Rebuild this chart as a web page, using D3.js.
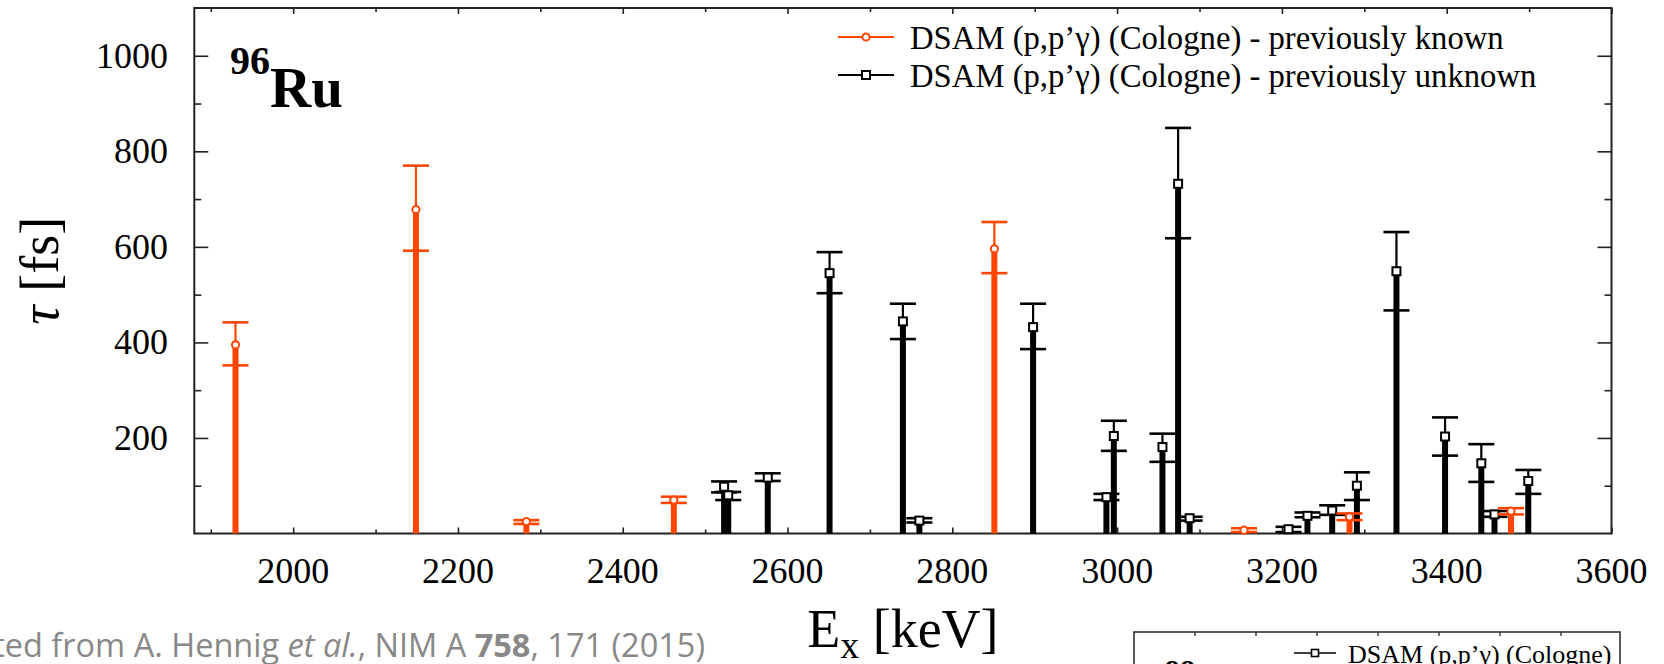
<!DOCTYPE html>
<html>
<head>
<meta charset="utf-8">
<script src="https://cdn.jsdelivr.net/npm/d3@7"></script>
<style>
  body { margin: 0; background: #fff; }
  svg { display: block; }
  .serif { font-family: "Liberation Serif", "Times New Roman", serif; }
</style>
</head>
<body>
<svg id="chart"></svg>
<script>
// Lifetimes of 96Ru levels
const knownE   = [1930, 2149, 2283, 2462, 2851, 3154, 3282, 3478];
const knownTau = [395, 678, 25, 70, 596, 7, 35, 47];
const knownUp  = [47, 92, 3, 7, 56, 4, 7, 6];
const knownLo  = [43, 86, 5, 6, 51, 4, 7, 7];

const unknownE   = [2523, 2528, 2576, 2651, 2740, 2760, 2898, 2987, 2996, 3055, 3074, 3088, 3208, 3231, 3261, 3291, 3339, 3398, 3442, 3458, 3499];
const unknownTau = [98, 80, 117, 545, 444, 27, 432, 76, 204, 181, 732, 32, 9, 37, 48, 100, 549, 203, 147, 40, 110];
const unknownUp  = [11, 7, 9, 44, 37, 5, 49, 7, 32, 28, 117, 3, 5, 7, 11, 28, 82, 40, 40, 7, 23];
const unknownLo  = [12, 10, 7, 42, 37, 4, 46, 6, 31, 31, 114, 5, 6, 3, 9, 30, 82, 40, 39, 5, 27];

const xMajor = d3.range(2000, 3601, 200);
const xMinor = d3.range(1900, 3600, 200);
const yMajor = [200, 400, 600, 800, 1000];
const yMinor = [100, 300, 500, 700, 900];

const legendLabels = [
    "DSAM (p,p\u2019\u03b3) (Cologne) - previously known",
    "DSAM (p,p\u2019\u03b3) (Cologne) - previously unknown"
];

const width = 1664, height = 664;
const orange = "#ff4500";

const svg = d3.select("#chart")
    .attr("width", width)
    .attr("height", height);

const x = d3.scaleLinear().domain([1880, 3600]).range([194.3, 1611.5]);
const y = d3.scaleLinear().domain([0, 1100]).range([533.5, 8]);

const [x0, x1] = x.range();
const [y0, y1] = y.range();

// axes with inward ticks on all four sides
function tickAxis(axisFn, scale, values, size) {
    return axisFn(scale).tickValues(values).tickSize(size).tickFormat("");
}

const axes = svg.append("g").attr("stroke-width", 1.6);

axes.append("g").attr("transform", `translate(0,${y0})`).call(tickAxis(d3.axisTop, x, xMajor, 6));
axes.append("g").attr("transform", `translate(0,${y0})`).call(tickAxis(d3.axisTop, x, xMinor, 4));
axes.append("g").attr("transform", `translate(0,${y1})`).call(tickAxis(d3.axisBottom, x, xMajor, 6));
axes.append("g").attr("transform", `translate(0,${y1})`).call(tickAxis(d3.axisBottom, x, xMinor, 4));
axes.append("g").attr("transform", `translate(${x0},0)`).call(tickAxis(d3.axisRight, y, yMajor, 14));
axes.append("g").attr("transform", `translate(${x0},0)`).call(tickAxis(d3.axisRight, y, yMinor, 7));
axes.append("g").attr("transform", `translate(${x1},0)`).call(tickAxis(d3.axisLeft, y, yMajor, 14));
axes.append("g").attr("transform", `translate(${x1},0)`).call(tickAxis(d3.axisLeft, y, yMinor, 7));

axes.selectAll(".domain").remove();
axes.selectAll("line").attr("stroke", "#222");

svg.append("rect")
    .attr("x", x0).attr("y", y1)
    .attr("width", x1 - x0).attr("height", y0 - y1)
    .attr("fill", "none")
    .attr("stroke", "#222")
    .attr("stroke-width", 2);

// tick labels
svg.append("g").attr("class", "serif")
    .selectAll("text")
    .data(xMajor)
    .enter().append("text")
    .attr("x", d => x(d))
    .attr("y", 583)
    .attr("text-anchor", "middle")
    .attr("font-size", 36)
    .text(d => d);

svg.append("g").attr("class", "serif")
    .selectAll("text")
    .data(yMajor)
    .enter().append("text")
    .attr("x", 168)
    .attr("y", d => y(d) + 12)
    .attr("text-anchor", "end")
    .attr("font-size", 36)
    .text(d => d);

// axis titles
const xTitle = svg.append("text").attr("class", "serif")
    .attr("x", x((1880 + 3600) / 2))
    .attr("y", 647)
    .attr("text-anchor", "middle")
    .attr("font-size", 54);
xTitle.append("tspan").text("E");
xTitle.append("tspan").attr("font-size", 38).attr("dy", 11).text("x");
xTitle.append("tspan").attr("dy", -11).text(" [keV]");

const yTitle = svg.append("text").attr("class", "serif")
    .attr("transform", `translate(58,${(y0 + y1) / 2}) rotate(-90)`)
    .attr("text-anchor", "middle")
    .attr("font-size", 54);
yTitle.append("tspan").attr("font-style", "italic").text("\u03c4");
yTitle.append("tspan").text(" [fs]");

// nucleus label
const nucleus = svg.append("text").attr("class", "serif")
    .attr("x", 230).attr("y", 107)
    .attr("font-weight", "bold")
    .attr("font-size", 57);
nucleus.append("tspan").attr("font-size", 40).attr("dy", -33).text("96");
nucleus.append("tspan").attr("dy", 33).text("Ru");

// data series
function drawSeries(E, tau, up, lo, color, marker) {
    const data = E.map((e, i) => ({ e: e, tau: tau[i], hi: tau[i] + up[i], lo: tau[i] - lo[i] }));
    const g = svg.append("g");

    g.selectAll(".err")
        .data(data)
        .enter().append("line")
        .attr("x1", d => x(d.e)).attr("x2", d => x(d.e))
        .attr("y1", d => y(d.hi)).attr("y2", d => y(d.lo))
        .attr("stroke", color).attr("stroke-width", 2.2);

    g.selectAll(".capHi")
        .data(data)
        .enter().append("line")
        .attr("x1", d => x(d.e) - 13).attr("x2", d => x(d.e) + 13)
        .attr("y1", d => y(d.hi)).attr("y2", d => y(d.hi))
        .attr("stroke", color).attr("stroke-width", 2.6);

    g.selectAll(".capLo")
        .data(data)
        .enter().append("line")
        .attr("x1", d => x(d.e) - 13).attr("x2", d => x(d.e) + 13)
        .attr("y1", d => y(d.lo)).attr("y2", d => y(d.lo))
        .attr("stroke", color).attr("stroke-width", 2.6);

    g.selectAll(".stem")
        .data(data)
        .enter().append("line")
        .attr("x1", d => x(d.e)).attr("x2", d => x(d.e))
        .attr("y1", y(0)).attr("y2", d => y(d.tau))
        .attr("stroke", color).attr("stroke-width", 6);

    if (marker === "circle") {
        g.selectAll("circle")
            .data(data)
            .enter().append("circle")
            .attr("cx", d => x(d.e)).attr("cy", d => y(d.tau))
            .attr("r", 3.6)
            .attr("fill", "#fff").attr("stroke", color).attr("stroke-width", 2);
    } else {
        g.selectAll("rect")
            .data(data)
            .enter().append("rect")
            .attr("x", d => x(d.e) - 4).attr("y", d => y(d.tau) - 4)
            .attr("width", 8).attr("height", 8)
            .attr("fill", "#fff").attr("stroke", color).attr("stroke-width", 2);
    }
}

drawSeries(unknownE, unknownTau, unknownUp, unknownLo, "#000", "square");
drawSeries(knownE, knownTau, knownUp, knownLo, orange, "circle");

// legend
const legend = svg.append("g");
const legendRows = [
    { label: legendLabels[0], color: orange, marker: "circle", y: 37 },
    { label: legendLabels[1], color: "#000", marker: "square", y: 75 }
];
legendRows.forEach(r => {
    legend.append("line")
        .attr("x1", 838).attr("x2", 894)
        .attr("y1", r.y).attr("y2", r.y)
        .attr("stroke", r.color).attr("stroke-width", 2);
    if (r.marker === "circle") {
        legend.append("circle").attr("cx", 866).attr("cy", r.y).attr("r", 3.6)
            .attr("fill", "#fff").attr("stroke", r.color).attr("stroke-width", 2);
    } else {
        legend.append("rect").attr("x", 862).attr("y", r.y - 4).attr("width", 8).attr("height", 8)
            .attr("fill", "#fff").attr("stroke", r.color).attr("stroke-width", 2);
    }
    legend.append("text").attr("class", "serif")
        .attr("x", 910).attr("y", r.y + 11.5)
        .attr("font-size", 32.7)
        .text(r.label);
});

// citation, cut at the left edge as in the source figure
const cite = svg.append("text")
    .attr("x", 705).attr("y", 657)
    .attr("text-anchor", "end")
    .attr("font-family", "'Open Sans', sans-serif")
    .attr("font-size", 32.5)
    .attr("fill", "#888");
cite.append("tspan").text("Adapted from A. Hennig ");
cite.append("tspan").attr("font-style", "italic").text("et al.");
cite.append("tspan").text(", NIM A ");
cite.append("tspan").attr("font-weight", "bold").text("758");
cite.append("tspan").text(", 171 (2015)");

// next panel peeking in at the bottom right
const inset = svg.append("g");
inset.append("rect")
    .attr("x", 1134).attr("y", 632)
    .attr("width", 486).attr("height", 80)
    .attr("fill", "none").attr("stroke", "#333").attr("stroke-width", 1.6);
inset.selectAll(".itick")
    .data(d3.range(7))
    .enter().append("line")
    .attr("x1", i => 1195 + i * 61).attr("x2", i => 1195 + i * 61)
    .attr("y1", 632).attr("y2", 636)
    .attr("stroke", "#333").attr("stroke-width", 1.4);
inset.append("line")
    .attr("x1", 1294).attr("x2", 1336).attr("y1", 653).attr("y2", 653)
    .attr("stroke", "#000").attr("stroke-width", 1.6);
inset.append("rect")
    .attr("x", 1311.5).attr("y", 649.5).attr("width", 7).attr("height", 7)
    .attr("fill", "#fff").attr("stroke", "#000").attr("stroke-width", 1.6);
inset.append("text").attr("class", "serif")
    .attr("x", 1348).attr("y", 663)
    .attr("font-size", 26)
    .text("DSAM (p,p\u2019\u03b3) (Cologne)");
inset.append("text").attr("class", "serif")
    .attr("x", 1165).attr("y", 680)
    .attr("font-weight", "bold")
    .attr("font-size", 30)
    .text("98");
</script>
</body>
</html>
